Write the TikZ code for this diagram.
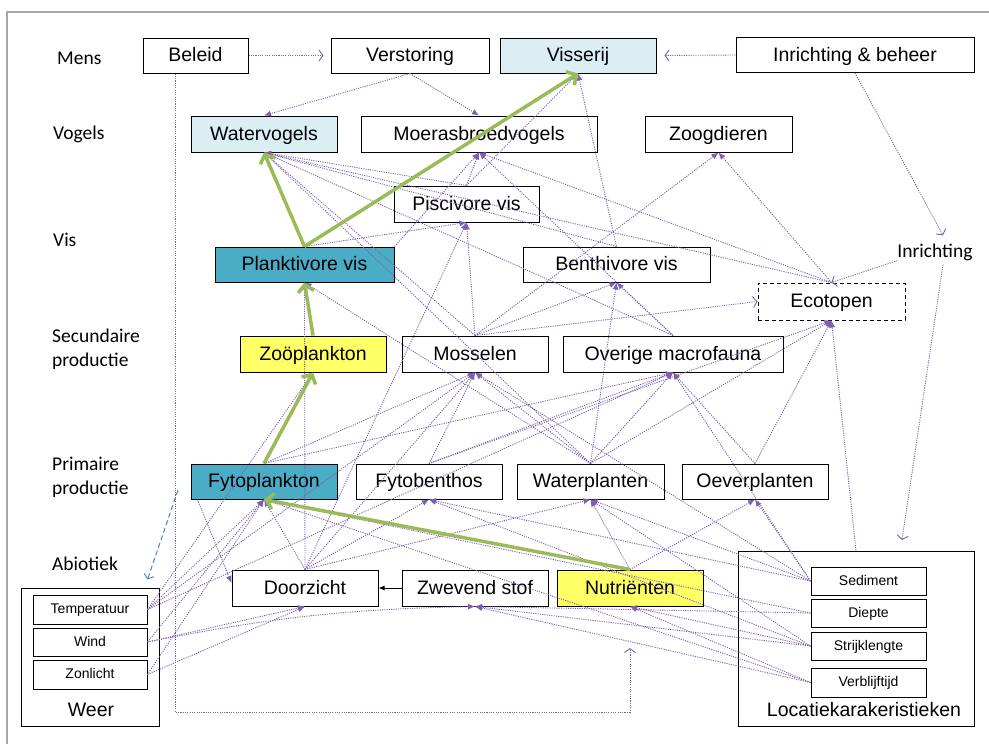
\documentclass[tikz,border=0pt]{standalone}
\usepackage{fontspec}
\setmainfont{Liberation Sans}
\newfontfamily\carlito{Carlito}
\usetikzlibrary{arrows.meta,calc}
\definecolor{pur}{RGB}{125,95,175}
\definecolor{lblue}{RGB}{219,238,244}
\definecolor{tealbox}{RGB}{75,172,198}
\definecolor{yel}{RGB}{255,255,102}
\definecolor{grnc}{RGB}{155,187,89}
\definecolor{framec}{RGB}{166,166,166}
\definecolor{bluedash}{RGB}{79,129,189}
\begin{document}
\begin{tikzpicture}[x=1pt,y=-1pt,
 box/.style={draw=black, line width=1pt, inner sep=0pt, minimum height=35pt, minimum width=146pt, text height=14pt, text depth=2pt, font=\fontsize{19.5}{22}\selectfont},
 sbox/.style={draw=black, line width=1pt, inner sep=0pt, minimum width=114pt, minimum height=28pt, text height=10pt, text depth=1.5pt, font=\fontsize{14}{16}\selectfont},
 lab/.style={anchor=west, inner sep=0pt, font=\carlito\fontsize{19.5}{24}\selectfont, align=left},
 dep/.style={draw=pur, line width=0.9pt, dash pattern=on 1.1pt off 1.2pt, -{Latex[length=7pt,width=6pt]}},
 opn/.style={draw=pur, line width=0.9pt, dash pattern=on 1.1pt off 1.2pt, -{Straight Barb[length=4pt,width=11pt]}},
 gline/.style={draw=grnc, line width=3.5pt, -{Straight Barb[length=7pt,width=16pt]}},
]
\useasboundingbox (0,0) rectangle (989,744);
\draw[framec, line width=1.5pt] (7,12) rectangle (1010,760);

% left labels
\node[lab] (lMens) at (57,58) {Mens};
\node[lab] (lVog) at (53,134) {Vogels};
\node[lab] (lVis) at (53,240) {Vis};
\node[lab] (lSec) at (52,349) {Secundaire\\productie};
\node[lab] (lPrim) at (52,477) {Primaire\\productie};
\node[lab] (lAbio) at (52,564) {Abiotiek};
\node[font=\carlito\fontsize{19.5}{23}\selectfont, inner sep=0pt] (IR) at (935,252) {Inrichting};

% Mens
\node[box, minimum width=105pt] (BE) at (195.5,55.5) {Beleid};
\node[box, minimum width=158pt] (VE) at (410,55.5) {Verstoring};
\node[box, minimum width=156pt, fill=lblue] (VS) at (578,55.5) {Visserij};
\node[box, minimum width=238pt] (IB) at (855,55) {Inrichting \& beheer};
% Vogels
\node[box, minimum height=36pt, fill=lblue] (WV) at (264,134) {Watervogels};
\node[box, minimum height=36pt, minimum width=236pt] (MB) at (479,134) {Moerasbroedvogels};
\node[box, minimum height=36pt, minimum width=147pt] (ZD) at (718.5,134) {Zoogdieren};
% Vis
\node[box, minimum height=36pt, minimum width=145pt] (PV) at (466.5,204) {Piscivore vis};
\node[box, minimum width=179pt, fill=tealbox] (PL) at (304.5,264.5) {Planktivore vis};
\node[box, minimum width=187pt] (BV) at (616.5,264.5) {Benthivore vis};
\node[box, minimum width=147pt, minimum height=37pt, dash pattern=on 4pt off 3pt] (EC) at (831.5,301.5) {Ecotopen};
% Secundaire productie
\node[box, minimum height=36pt, fill=yel] (ZO) at (313,354) {Zoöplankton};
\node[box, minimum height=36pt] (MO) at (475,354) {Mosselen};
\node[box, minimum height=36pt, minimum width=220pt] (OM) at (673,354) {Overige macrofauna};
% Primaire productie
\node[box, fill=tealbox] (FP) at (264,481.5) {Fytoplankton};
\node[box] (FB) at (429,481.5) {Fytobenthos};
\node[box, minimum width=147pt] (WP) at (590.5,481.5) {Waterplanten};
\node[box] (OP) at (755,481.5) {Oeverplanten};
% Abiotiek
\node[box, minimum height=36pt] (DZ) at (305,588) {Doorzicht};
\node[box, minimum height=36pt] (ZS) at (475,588) {Zwevend stof};
\node[box, minimum height=36pt, fill=yel] (NU) at (630,588) {Nutriënten};
% Weer
\node[draw=black, line width=1pt, minimum width=138pt, minimum height=138pt, inner sep=0pt] (WE) at (90,657) {};
\node[sbox, minimum height=29pt] (TM) at (90,609.5) {Temperatuur};
\node[sbox] (WI) at (90,642) {Wind};
\node[sbox, minimum height=29pt] (ZL) at (90,674.5) {Zonlicht};
\node[font=\fontsize{19.5}{22}\selectfont, inner sep=0pt] (lWeer) at (91,710) {Weer};
% Locatiekarakteristieken
\node[draw=black, line width=1pt, minimum width=236pt, minimum height=175pt, inner sep=0pt] (LK) at (856,638.5) {};
\node[sbox, minimum width=115pt] (SD) at (868.5,581) {Sediment};
\node[sbox, minimum width=115pt] (DP) at (868.5,613) {Diepte};
\node[sbox, minimum width=115pt] (ST) at (868.5,646) {Strijklengte};
\node[sbox, minimum width=115pt, minimum height=29pt] (VB) at (868.5,682.5) {Verblijftijd};
\node[font=\fontsize{19.5}{22}\selectfont, inner sep=0pt] (lLK) at (864,710) {Locatiekarakeristieken};

\coordinate (bcorner) at (175,712);
\coordinate (bend) at (630,648);
\coordinate (lkin) at (902,540);
\coordinate (bd1) at (178,490);

% dotted dependencies
\foreach \s/\t in {PV.north/VS.south, BV.north/VS.south,
 VE.south/WV.north, VE.south/MB.north,
 EC.north/WV.south, EC.north/MB.south, EC.north/ZD.south,
 MO.north/ZD.south, PV.north/MB.south, PL.north east/MB.south, OM.north/MB.south,
 PV.north/WV.south, BV.north/WV.south, OM.north/WV.south, MO.north/WV.south, WP.north/WV.south,
 PL.north/PV.south, DZ.north/PV.south, MO.north/PV.south,
 DZ.north/PL.south, WP.north/PL.south,
 MO.north/BV.south, OM.north/BV.south, WP.north/BV.south,
 OP.north/EC.south, WP.north/EC.south, FB.north/EC.south, LK.north/EC.south,
 FP.north/MO.south, FB.north/MO.south, WP.north/MO.south, DZ.north/MO.south, TM.east/MO.south, SD.west/MO.south,
 FP.north/OM.south, FB.north/OM.south, WP.north/OM.south, OP.north/OM.south, TM.east/OM.south, SD.west/OM.south,
 TM.east/ZO.south,
 TM.east/FP.south, WI.east/FP.south, ZL.east/FP.south, DZ.north/FP.south, DP.west/FP.south, VB.west/FP.south,
 DZ.north/FB.south, SD.west/FB.south, ST.west/FB.south,
 DZ.north/WP.south, NU.north/WP.south, SD.west/WP.south, ST.west/WP.south,
 NU.north/OP.south, SD.west/OP.south,
 WI.east/DZ.south, ZL.east/DZ.south,
 DP.west/ZS.south, ST.west/ZS.south, VB.west/ZS.south,
 ST.west/NU.south, VB.west/NU.south}
 \draw[dep] (\s) -- (\t);
\draw[dep] (WI.east) to[bend left=5] (ZS.south);
\draw[dep] ([xshift=7pt]FP.south west) -- ([yshift=5pt]DZ.west);

% open arrows
\draw[opn, shorten >=7pt] (BE.east) -- (VE.west);
\draw[opn, shorten >=8pt] (IB.west) -- (VS.east);
\draw[opn] (IB.south) -- ([xshift=8pt,yshift=8pt]IR.north);
\draw[opn] (IR.south west) -- (EC.north);
\draw[opn] ([xshift=8pt,yshift=-4pt]IR.south) -- (lkin);
\draw[opn] (MO.north) -- (EC.west);
\draw[opn] ([xshift=-20.5pt]BE.south) -- (bcorner) -| (bend);

% solid black
\draw[line width=1pt, -{Latex[length=6pt,width=5pt]}] (ZS.west) -- (DZ.east);
% blue dashed
\draw[bluedash, line width=1pt, dash pattern=on 5pt off 3pt, -{Straight Barb[length=4pt,width=10pt]}] (bd1) -- ([xshift=-12pt,yshift=8pt]WE.north east);

% green
\draw[gline] (PL.north) -- (WV.south);
\draw[gline] (PL.north) -- (VS.south);
\draw[gline] (ZO.north) -- (PL.south);
\draw[gline] (FP.north) -- (ZO.south);
\draw[gline] (NU.north) -- (FP.south);
\end{tikzpicture}
\end{document}
